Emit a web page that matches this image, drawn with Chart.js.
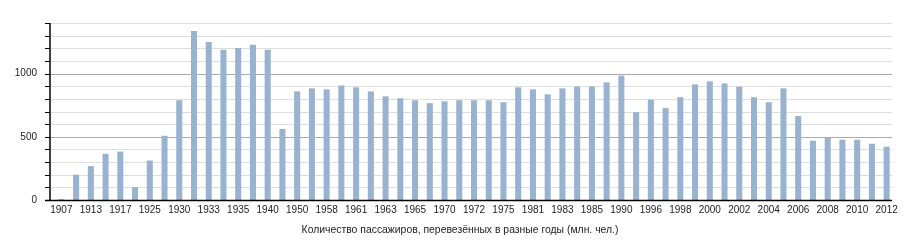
<!DOCTYPE html>
<html lang="ru">
<head>
<meta charset="utf-8">
<title>Количество пассажиров</title>
<script src="https://cdn.jsdelivr.net/npm/chart.js@4/dist/chart.umd.min.js"></script>
<style>
  html, body { margin: 0; padding: 0; background: #fff; }
  #wrap { width: 910px; height: 250px; position: relative; }
</style>
</head>
<body>
<div id="wrap"><canvas id="chart"></canvas></div>
<script>
const years = [
  '1907', '1910', '1913', '1915', '1917', '1920', '1925', '1928', '1930', '1932',
  '1933', '1934', '1935', '1937', '1940', '1945', '1950', '1955', '1958', '1960',
  '1961', '1962', '1963', '1964', '1965', '1966', '1970', '1971', '1972', '1973',
  '1975', '1980', '1981', '1982', '1983', '1984', '1985', '1986', '1990', '1995',
  '1996', '1997', '1998', '1999', '2000', '2001', '2002', '2003', '2004', '2005',
  '2006', '2007', '2008', '2009', '2010', '2011', '2012'
]

const passengers = [
  7, 200, 268, 365, 383, 102, 312, 508, 789, 1336,
  1250, 1188, 1203, 1227, 1188, 562, 859, 883, 875, 906,
  891, 859, 820, 805, 789, 766, 781, 789, 789, 789,
  773, 891, 875, 836, 883, 898, 898, 930, 984, 695,
  794, 727, 813, 914, 938, 922, 896, 813, 773, 883,
  664, 469, 497, 477, 477, 445, 422
]

const yTickLabels = [0, 500, 1000]

const AXIS_TITLE = 'Количество пассажиров, перевезённых в разные годы (млн. чел.)'
const FONT = { family: '"Liberation Sans", Arial, sans-serif', size: 10 }

const axesPlugin = {
  id: 'axesPlugin',
  beforeDatasetsDraw(chart) {
    const { ctx, chartArea, scales: { y } } = chart
    const left = chartArea.left - 4
    const right = chartArea.right - 2

    ctx.save()
    for (let v = 100; v <= y.max; v += 100) {
      const py = Math.round(y.getPixelForValue(v)) + 0.5
      ctx.strokeStyle = v % 500 === 0 ? '#a9a9a9' : '#dedede'
      ctx.lineWidth = 1
      ctx.beginPath()
      ctx.moveTo(left, py)
      ctx.lineTo(right, py)
      ctx.stroke()
    }
    ctx.restore()
  },
  afterDatasetsDraw(chart) {
    const { ctx, chartArea, scales: { y } } = chart
    const axisX = chartArea.left - 4
    const bottom = Math.round(y.getPixelForValue(0)) + 0.5

    ctx.save()
    ctx.strokeStyle = '#000'
    ctx.lineWidth = 1
    for (let v = 100; v <= y.max; v += 100) {
      const py = Math.round(y.getPixelForValue(v)) + 0.5
      ctx.beginPath()
      ctx.moveTo(axisX - 5, py)
      ctx.lineTo(axisX, py)
      ctx.stroke()
    }
    ctx.lineWidth = 1.5
    ctx.beginPath()
    ctx.moveTo(axisX, chartArea.top)
    ctx.lineTo(axisX, bottom)
    ctx.stroke()
    ctx.beginPath()
    ctx.moveTo(axisX - 5, bottom)
    ctx.lineTo(chartArea.right - 2, bottom)
    ctx.stroke()

    // подпись оси: в оригинале центрирована по всему рисунку, а не по оси
    ctx.fillStyle = '#222'
    ctx.font = '10.4px "Liberation Sans", Arial, sans-serif'
    ctx.textAlign = 'center'
    ctx.textBaseline = 'middle'
    ctx.fillText(AXIS_TITLE, chart.width / 2 + 5, bottom + 29.5)
    ctx.restore()
  }
}

function getChartConfig() {
  return {
    type: 'bar',
    data: {
      labels: years,
      datasets: [{
        label: 'Пассажиры',
        data: passengers,
        backgroundColor: '#98b2cf',
        borderWidth: 0,
        categoryPercentage: 1,
        barPercentage: 0.41
      }]
    },
    options: {
      responsive: false,
      animation: false,
      layout: { padding: { top: 21, right: 16, left: 0, bottom: 14 } },
      plugins: {
        legend: { display: false },
        tooltip: { enabled: false }
      },
      scales: {
        x: {
          grid: { display: false, drawTicks: false },
          border: { display: false },
          ticks: {
            autoSkip: false,
            maxRotation: 0,
            minRotation: 0,
            padding: 4,
            color: '#222',
            font: FONT,
            callback: (value, index) => index % 2 === 0 ? years[index] : ''
          },
          afterFit(scale) { scale.height = 36 }
        },
        y: {
          min: 0,
          max: 1400,
          grid: { display: false, drawTicks: false },
          border: { display: false },
          ticks: {
            autoSkip: false,
            stepSize: 100,
            padding: 17,
            color: '#222',
            font: FONT,
            callback: value => yTickLabels.includes(value) ? value : ''
          },
          afterFit(scale) { scale.width = 54 }
        }
      }
    },
    plugins: [axesPlugin]
  }
}

const canvas = document.getElementById('chart')
canvas.width = 910
canvas.height = 250
new Chart(canvas.getContext('2d'), getChartConfig())
</script>
</body>
</html>
